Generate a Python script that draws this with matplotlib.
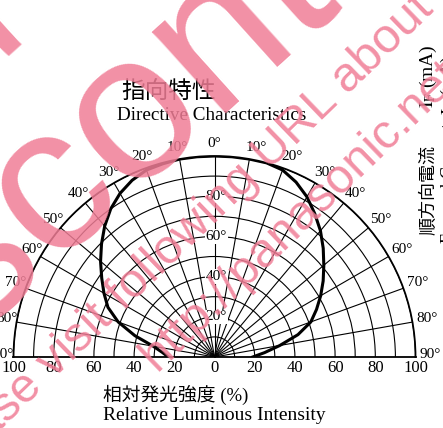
import numpy as np
import matplotlib
matplotlib.use("Agg")
import matplotlib.pyplot as plt

W, H = 443, 428

# directive pattern (angle in degrees, relative intensity in %)
angles = list(range(-90, 95, 5))
intensity = [23, 26, 31, 41, 51, 58.5, 63.5, 68.5, 74, 79.5, 85, 90, 94, 97, 99, 99.5, 100, 100,
             100,
             100, 100, 100, 99, 96, 92, 87, 82, 76.5, 71, 66, 61, 56, 51, 43, 33, 25, 19]

angle_ticks = list(range(-90, 91, 10))
radial_ticks = list(range(10, 101, 10))
radial_labels = [20, 40, 60, 80]
bottom_labels = [-100, -80, -60, -40, -20, 0, 20, 40, 60, 80, 100]

plt.rcParams['font.family'] = ['Liberation Serif', 'Noto Sans CJK JP']
plt.rcParams['mathtext.fontset'] = 'stix'

fig = plt.figure(figsize=(W / 100, H / 100), dpi=100)

# polar wedge: origin at (cx, cy) px from top-left, radius R px
cx, cy, R = 214.5, 357, 201
ax = fig.add_axes([(cx - R) / W, ((H - cy) - R / 2) / H, 2 * R / W, 2 * R / H],
                  projection='polar')
ax.set_theta_zero_location('N')
ax.set_theta_direction(-1)
ax.set_thetamin(-90)
ax.set_thetamax(90)
ax.set_rlim(0, 100)
ax.set_yticks(radial_ticks)
ax.set_yticklabels([])
ax.set_xticks(np.radians(angle_ticks))
ax.set_xticklabels([])
ax.grid(True, color='black', linewidth=0.8)
for sp in ax.spines.values():
    sp.set_color('black')
    sp.set_linewidth(1.3)

ax.plot(np.radians(angles), intensity, color='black', lw=2.2, zorder=5)

# angle labels round the outer circle
for a in angle_ticks:
    dx = 5 if a > 0 else 0
    ax.annotate(f"{abs(a)}°", xy=(np.radians(a), 105), xytext=(dx, 2),
                textcoords='offset pixels', ha='center', va='center',
                fontsize=11, annotation_clip=False)

# radial labels on the vertical axis
for v in radial_labels:
    ax.annotate(f"{v}°", xy=(0, v), xytext=(2, 0), textcoords='offset pixels',
                ha='center', va='center', fontsize=11, zorder=6,
                bbox=dict(boxstyle='square,pad=0.05', fc='white', ec='none'))

# scale below the baseline
for v in bottom_labels:
    th = np.radians(90 if v >= 0 else -90)
    ax.annotate(f"{abs(v)}", xy=(th, abs(v)), xytext=(0, -11), textcoords='offset pixels',
                ha='center', va='center', fontsize=12, annotation_clip=False)


def fx(x):
    return x / W


def fy(y):
    return 1 - y / H


fig.text(fx(121), fy(92), "指向特性", fontsize=17, family=['Noto Sans CJK JP'],
         ha='left', va='center')
fig.text(fx(117), fy(115), "Directive Characteristics", fontsize=13.8, ha='left', va='center')
fig.text(fx(103), fy(395), "相対発光強度 (%)", fontsize=13.5, ha='left', va='center')
fig.text(fx(103), fy(416), "Relative Luminous Intensity", fontsize=14, ha='left', va='center')
fig.text(fx(428), fy(190), "順方向電流", fontsize=13, family=['Noto Sans CJK JP'],
         rotation=90, ha='center', va='center')
fig.text(fx(428), fy(76), r"$\mathrm{I_F}$ (mA)", fontsize=14, rotation=90,
         ha='center', va='center')
fig.text(fx(449), fy(150), r"Forward Current  $\mathrm{I_F}$ (mA)", fontsize=13, rotation=90,
         ha='center', va='center')

# watermark
pink = '#F07D96'
wm = dict(family=['Liberation Sans'], color=pink, alpha=0.85, rotation_mode='anchor',
          ha='left', va='baseline', zorder=10)
fig.text(fx(-175), fy(460), "Discontinued", fontsize=150, rotation=42, **wm)
fig.text(fx(-866), fy(830), "Discontinued", fontsize=150, rotation=42, **wm)
fig.text(fx(-63), fy(492), "Please visit following URL about latest information.",
         fontsize=35, rotation=44, **wm)
fig.text(fx(157), fy(372), "http://panasonic.net/id/", fontsize=35, rotation=44, **wm)

fig.savefig("out.png", dpi=100)
